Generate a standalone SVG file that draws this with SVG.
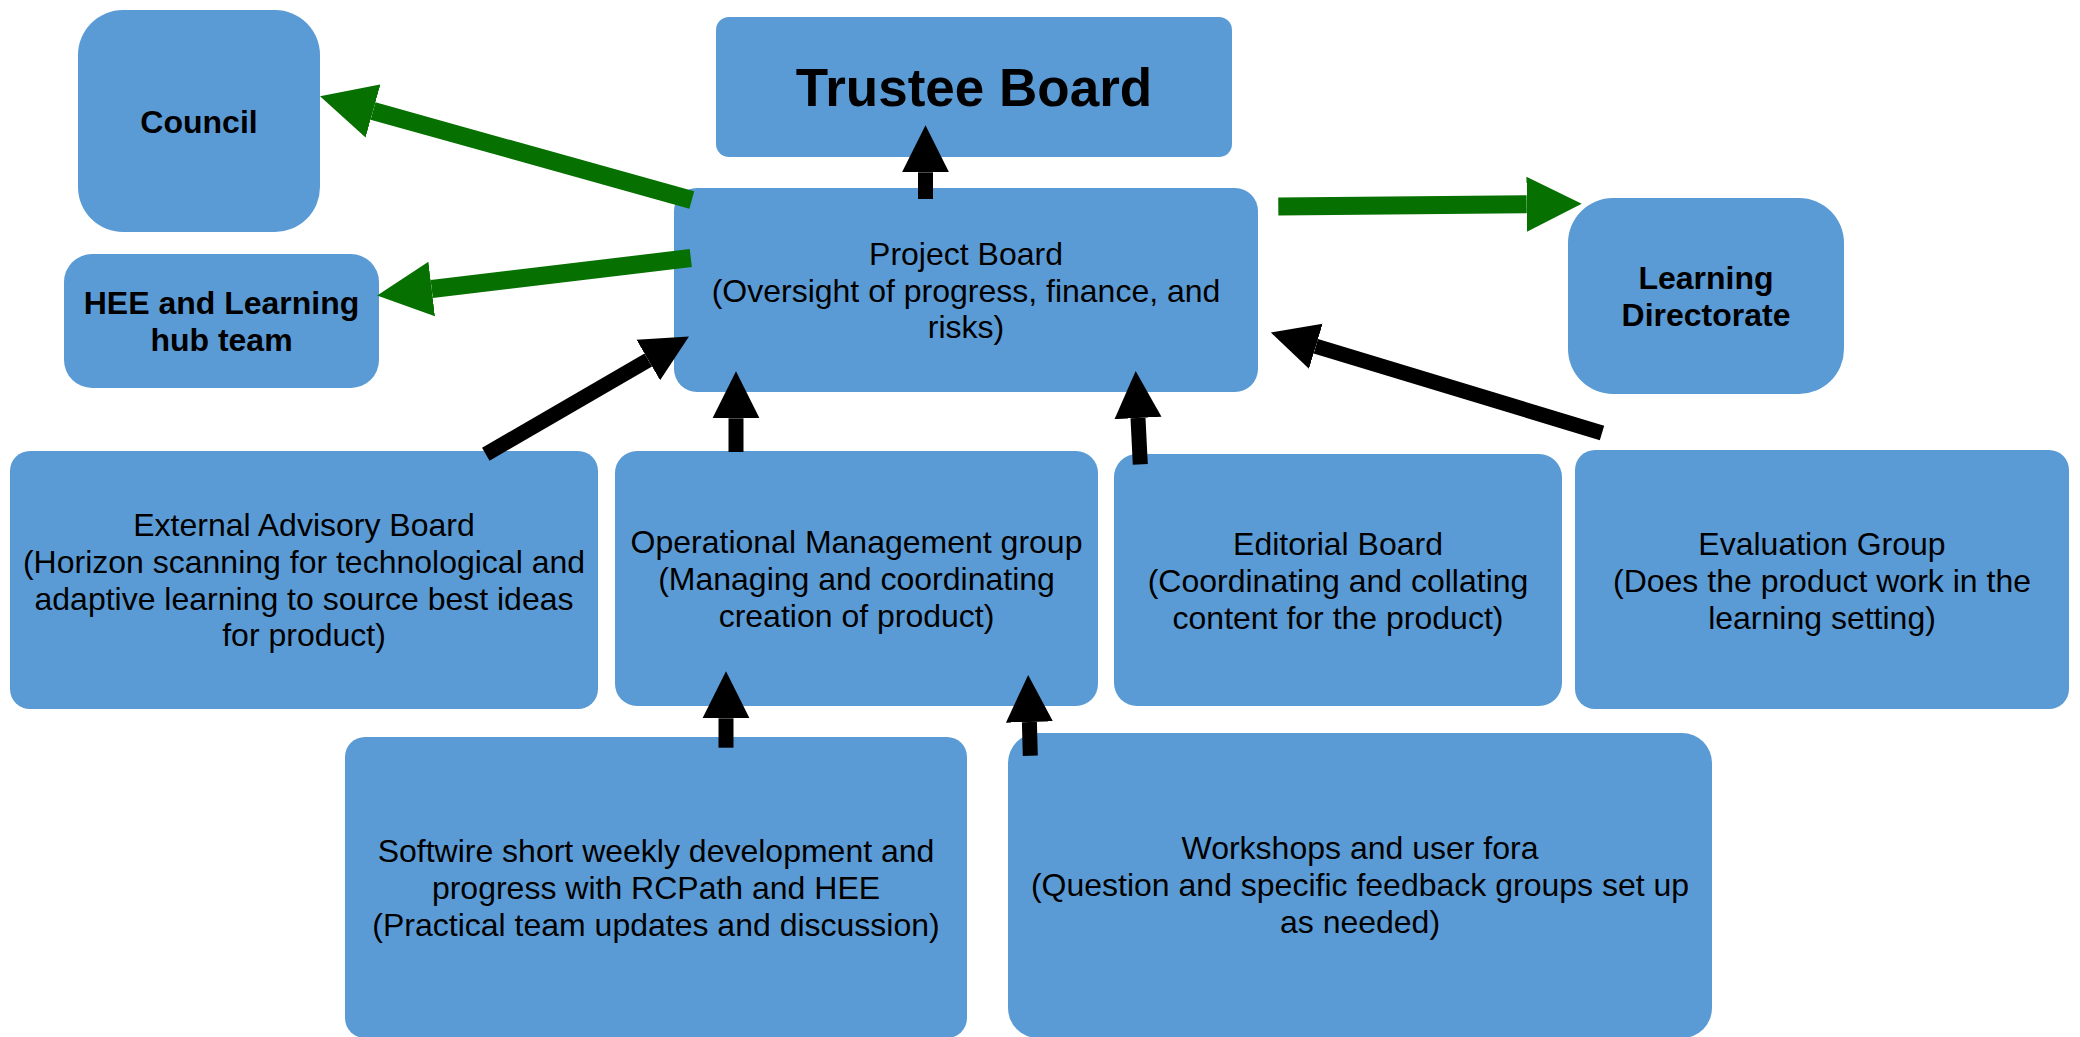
<svg xmlns="http://www.w3.org/2000/svg" width="2080" height="1037" viewBox="0 0 2080 1037">
<defs>
<style>
.box{fill:#5B9BD5;}
.t{font-family:"Liberation Sans",Arial,sans-serif;font-size:32px;fill:#000;text-anchor:middle;}
.b{font-weight:bold;}
.big{font-size:53px;font-weight:bold;}
.blk{stroke:#000;stroke-width:15;fill:none;marker-end:url(#hb);}
.grn{stroke:#067000;stroke-width:18;fill:none;marker-end:url(#hg);}
</style>
<marker id="hb" markerUnits="userSpaceOnUse" markerWidth="48" markerHeight="48" viewBox="0 0 48 48" refX="0" refY="24" orient="auto">
<path d="M0,0.5 L47,24 L0,47.5 Z" fill="#000"/>
</marker>
<marker id="hg" markerUnits="userSpaceOnUse" markerWidth="56" markerHeight="56" viewBox="0 0 56 56" refX="0" refY="28" orient="auto">
<path d="M0,0.5 L55,28 L0,55.5 Z" fill="#067000"/>
</marker>
</defs>
<rect width="2080" height="1037" fill="#fff"/>

<g id="council"><rect class="box" x="78" y="10" width="242" height="222" rx="45"/>
<text class="t b" x="199" y="133">Council</text></g>

<g id="trustee"><rect class="box" x="716" y="17" width="516" height="140" rx="13"/>
<text class="t big" x="974" y="106">Trustee Board</text></g>

<g id="project"><rect class="box" x="674" y="188" width="584" height="204" rx="23"/>
<text class="t" x="966" y="265">Project Board</text>
<text class="t" x="966" y="301.7">(Oversight of progress, finance, and</text>
<text class="t" x="966" y="338.4">risks)</text></g>

<g id="hee"><rect class="box" x="64" y="254" width="315" height="134" rx="28"/>
<text class="t b" x="221.5" y="314">HEE and Learning</text>
<text class="t b" x="221.5" y="351">hub team</text></g>

<g id="learning"><rect class="box" x="1568" y="198" width="276" height="196" rx="45"/>
<text class="t b" x="1706" y="289">Learning</text>
<text class="t b" x="1706" y="326">Directorate</text></g>

<g id="external"><rect class="box" x="10" y="451" width="588" height="258" rx="20"/>
<text class="t" x="304" y="536">External Advisory Board</text>
<text class="t" x="304" y="572.8">(Horizon scanning for technological and</text>
<text class="t" x="304" y="609.6">adaptive learning to source best ideas</text>
<text class="t" x="304" y="646.4">for product)</text></g>

<g id="operational"><rect class="box" x="615" y="451" width="483" height="255" rx="22"/>
<text class="t" x="856.5" y="552.5">Operational Management group</text>
<text class="t" x="856.5" y="589.5">(Managing and coordinating</text>
<text class="t" x="856.5" y="626.5">creation of product)</text></g>

<g id="editorial"><rect class="box" x="1114" y="454" width="448" height="252" rx="23"/>
<text class="t" x="1338" y="555">Editorial Board</text>
<text class="t" x="1338" y="591.8">(Coordinating and collating</text>
<text class="t" x="1338" y="628.6">content for the product)</text></g>

<g id="evaluation"><rect class="box" x="1575" y="450" width="494" height="259" rx="20"/>
<text class="t" x="1822" y="555">Evaluation Group</text>
<text class="t" x="1822" y="591.8">(Does the product work in the</text>
<text class="t" x="1822" y="628.6">learning setting)</text></g>

<g id="softwire"><rect class="box" x="345" y="737" width="622" height="301" rx="20"/>
<text class="t" x="656" y="862">Softwire short weekly development and</text>
<text class="t" x="656" y="898.8">progress with RCPath and HEE</text>
<text class="t" x="656" y="935.6">(Practical team updates and discussion)</text></g>

<g id="workshops"><rect class="box" x="1008" y="733" width="704" height="305" rx="30"/>
<text class="t" x="1360" y="859">Workshops and user fora</text>
<text class="t" x="1360" y="895.8">(Question and specific feedback groups set up</text>
<text class="t" x="1360" y="932.6">as needed)</text></g>

<g id="connectors">
<line class="grn" x1="691.8" y1="200" x2="373" y2="111"/>
<line class="grn" x1="690.8" y1="258" x2="431.7" y2="289"/>
<line class="grn" x1="1278.3" y1="206.5" x2="1526.7" y2="204.2"/>
<line class="blk" x1="925.5" y1="199" x2="925.5" y2="172.3"/>
<line class="blk" x1="485.8" y1="454.2" x2="648.3" y2="360"/>
<line class="blk" x1="736" y1="452" x2="736" y2="418.3"/>
<line class="blk" x1="1140.3" y1="464.3" x2="1138" y2="418"/>
<line class="blk" x1="1602" y1="433" x2="1315.8" y2="346.2"/>
<line class="blk" x1="726" y1="747.7" x2="726" y2="718.3"/>
<line class="blk" x1="1030.3" y1="755.7" x2="1029.4" y2="722"/>
</g>
</svg>
